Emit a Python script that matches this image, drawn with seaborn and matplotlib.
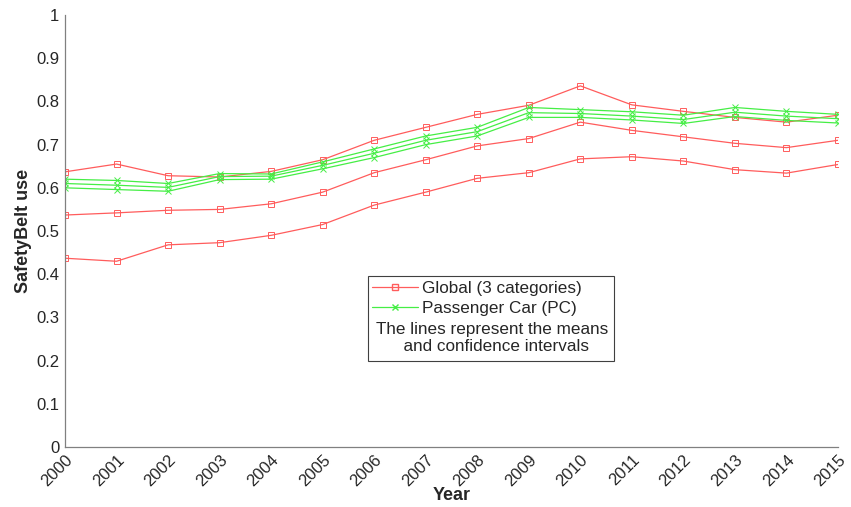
import matplotlib
matplotlib.use("Agg")
import matplotlib.pyplot as plt
import seaborn as sns
import pandas as pd
from matplotlib.patches import Rectangle
from matplotlib.lines import Line2D

years = list(range(2000, 2016))

# Global (3 categories): mean and confidence bounds
global_upper = [0.637, 0.655, 0.628, 0.625, 0.638, 0.665, 0.710, 0.740, 0.770, 0.791, 0.836, 0.792, 0.777, 0.763, 0.752, 0.768]
global_mean = [0.537, 0.542, 0.548, 0.550, 0.563, 0.590, 0.635, 0.665, 0.697, 0.714, 0.752, 0.733, 0.718, 0.703, 0.693, 0.710]
global_lower = [0.437, 0.430, 0.468, 0.473, 0.490, 0.515, 0.560, 0.590, 0.622, 0.635, 0.667, 0.672, 0.662, 0.642, 0.634, 0.654]

# Passenger Car (PC)
pc_upper = [0.620, 0.617, 0.610, 0.633, 0.632, 0.660, 0.690, 0.720, 0.740, 0.786, 0.781, 0.776, 0.768, 0.786, 0.777, 0.770]
pc_mean = [0.610, 0.606, 0.601, 0.626, 0.627, 0.652, 0.680, 0.710, 0.730, 0.774, 0.772, 0.766, 0.758, 0.775, 0.766, 0.760]
pc_lower = [0.600, 0.596, 0.592, 0.619, 0.620, 0.644, 0.670, 0.700, 0.720, 0.763, 0.763, 0.757, 0.749, 0.765, 0.756, 0.750]

RED = "#ff5c5c"
GREEN = "#45ee45"

series = {
    "g_up": (global_upper, RED, "s"),
    "g_mid": (global_mean, RED, "s"),
    "g_low": (global_lower, RED, "s"),
    "pc_up": (pc_upper, GREEN, "x"),
    "pc_mid": (pc_mean, GREEN, "x"),
    "pc_low": (pc_lower, GREEN, "x"),
}

rows = []
for name, (vals, _, _) in series.items():
    for y, v in zip(years, vals):
        rows.append({"Year": y, "value": v, "series": name})
df = pd.DataFrame(rows)

sns.set_style("white")
plt.rcParams["font.family"] = ["Liberation Sans", "DejaVu Sans"]

fig = plt.figure(figsize=(8.51, 5.07), dpi=100)
ax = fig.add_axes([0.0764, 0.1183, 0.9083, 0.8521])

for name, (vals, color, marker) in series.items():
    sub = df[df["series"] == name]
    sns.lineplot(data=sub, x="Year", y="value", ax=ax, color=color, lw=0.9,
                 marker=marker, markersize=4, markerfacecolor="none",
                 markeredgecolor=color, markeredgewidth=0.7, legend=False)

ax.set_xlim(2000, 2015)
ax.set_ylim(0, 1)
ax.set_xticks(years)
ax.set_xticklabels([str(y) for y in years], rotation=45, ha="right",
                   rotation_mode="anchor", fontsize=12, color="#262626")
ax.set_yticks([i / 10 for i in range(11)])
ax.set_yticklabels(["0", "0.1", "0.2", "0.3", "0.4", "0.5", "0.6", "0.7", "0.8", "0.9", "1"],
                   fontsize=12, color="#262626")
ax.tick_params(direction="in", length=5, color="#808080", width=0.8, pad=4)
for s in ["top", "right"]:
    ax.spines[s].set_visible(False)
for s in ["left", "bottom"]:
    ax.spines[s].set_color("#808080")
    ax.spines[s].set_linewidth(0.9)

ax.set_xlabel("Year", fontsize=13, fontweight="bold", color="#262626", labelpad=-2)
ax.set_ylabel("SafetyBelt use", fontsize=13, fontweight="bold", color="#262626", labelpad=3)

# legend box with explanatory note
box = Rectangle((368 / 851, 1 - 361 / 507), (614 - 368) / 851, (361 - 276) / 507,
                transform=fig.transFigure, facecolor="white", edgecolor="#404040",
                lw=0.8, zorder=5)
fig.patches.append(box)
handles = [
    Line2D([], [], color=RED, lw=0.9, marker="s", markersize=4, markerfacecolor="none"),
    Line2D([], [], color=GREEN, lw=0.9, marker="x", markersize=4),
]
leg = fig.legend(handles, ["Global (3 categories)", "Passenger Car (PC)"],
                 loc="upper left", bbox_to_anchor=(372 / 851, 1 - 281 / 507),
                 frameon=False, fontsize=12.3, handlelength=2.7, handletextpad=0.25,
                 labelspacing=0.32, borderpad=0, borderaxespad=0)
leg.set_zorder(6)
fig.text(492 / 851, 1 - 338 / 507, "The lines represent the means\n  and confidence intervals",
         ha="center", va="center", fontsize=12.3, color="#262626", zorder=7, linespacing=1.2)

fig.savefig("out.png", dpi=100)
